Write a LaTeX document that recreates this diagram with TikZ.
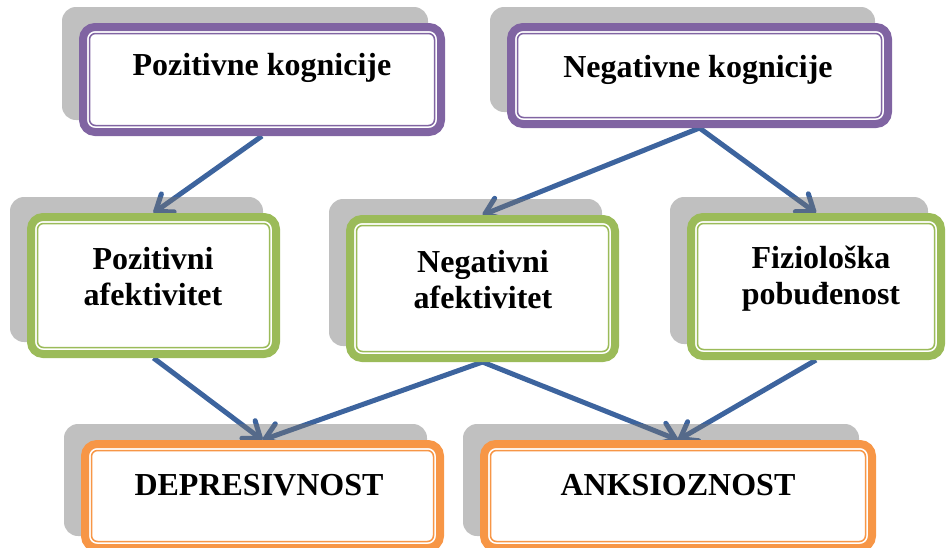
\documentclass[tikz,border=0pt]{standalone}
\usepackage{fontspec}
\setmainfont{Liberation Serif}
\usetikzlibrary{arrows.meta, backgrounds}

\definecolor{ljubicasta}{HTML}{8064A2}
\definecolor{zelena}{HTML}{9BBB59}
\definecolor{narandzasta}{HTML}{F79646}
\definecolor{strelica}{HTML}{3D649E}
\definecolor{sjena}{HTML}{737373}

\begin{document}
\begin{tikzpicture}[x=1pt, y=-1pt, >={Straight Barb[length=15pt, width=22pt, round]},
  kutija/.style={draw=#1, line width=8pt, fill=white, rounded corners=12pt, inner sep=0pt,
    path picture={\draw[#1, line width=1.5pt, rounded corners=6pt]
      ([shift={(6.5pt,-6.5pt)}]path picture bounding box.north west) rectangle
      ([shift={(-6.5pt,6.5pt)}]path picture bounding box.south east);}},
  tekst/.style={font=\fontsize{32}{36}\selectfont\bfseries, align=center, inner sep=0pt},
  veza/.style={->, strelica, line width=5pt}]

\useasboundingbox (0,0) rectangle (946,547);

% Les boîtes (kognicije)
\node[kutija=ljubicasta, minimum width=358pt, minimum height=105pt] (pk) at (262,79.5) {};
\node[kutija=ljubicasta, minimum width=377pt, minimum height=97pt] (nk) at (699.5,75.5) {};

% Les boîtes (afektivitet)
\node[kutija=zelena, minimum width=245pt, minimum height=137pt] (pa) at (153.5,285.5) {};
\node[kutija=zelena, minimum width=265pt, minimum height=139pt] (na) at (482.5,288.5) {};
\node[kutija=zelena, minimum width=250pt, minimum height=139pt] (fp) at (816,286.5) {};

% Les boîtes (ishodi)
\node[kutija=narandzasta, minimum width=355pt, minimum height=104pt] (dep) at (262.5,496) {};
\node[kutija=narandzasta, minimum width=388pt, minimum height=104pt] (ank) at (678,496) {};

% Les textes
\node[tekst, anchor=base] (pkt) at (262,75) {Pozitivne kognicije};
\node[tekst, anchor=base] (nkt) at (698,77) {Negativne kognicije};
\node[tekst] (pat) at (153,277) {Pozitivni\\afektivitet};
\node[tekst] (nat) at (483,280) {Negativni\\afektivitet};
\node[tekst] (fpt) at (821,279) {Fiziološka\\pobuđenost};
\node[tekst, anchor=base] (dept) at (259,495) {DEPRESIVNOST};
\node[tekst, anchor=base] (ankt) at (678,495) {ANKSIOZNOST};

\begin{scope}[on background layer]
% Les flèches
\foreach \a/\b in {pk/pa, nk/na, nk/fp, pa/dep, na/dep, na/ank, fp/ank}
\draw[veza] (\a.south) -- (\b.north);

% Les ombres
\foreach \k in {pk,nk,pa,na,fp,dep,ank}
\fill[sjena, opacity=0.45, rounded corners=14pt]
  ([shift={(-17pt,16pt)}]\k.north west) rectangle ([shift={(-17pt,16pt)}]\k.south east);
\end{scope}

\end{tikzpicture}
\end{document}
